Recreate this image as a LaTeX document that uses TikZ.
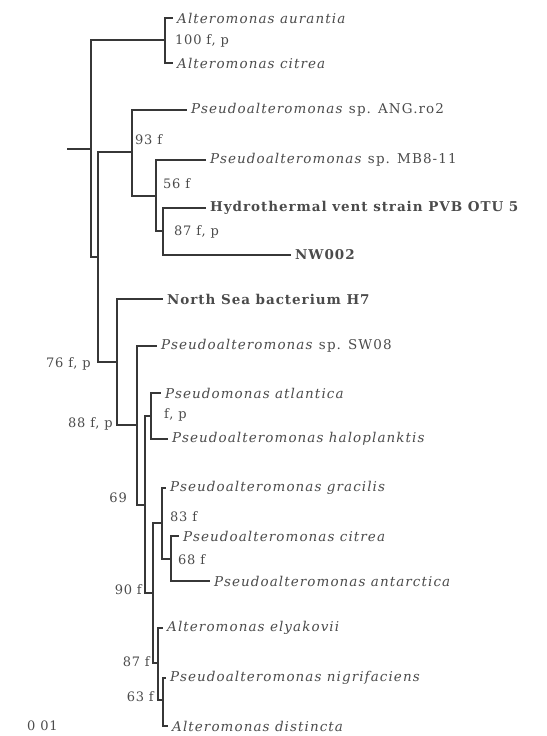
\documentclass[tikz,border=0pt]{standalone}
\usepackage{fontspec}
\setmainfont{Liberation Serif}
\newfontfamily\taxonfont[LetterSpace=8]{DejaVu Serif}
\newfontfamily\valuefont[LetterSpace=6]{DejaVu Serif}
\usetikzlibrary{positioning}
\definecolor{branchgray}{RGB}{55, 55, 55}
\definecolor{textgray}{RGB}{75, 75, 75}
\tikzset{
    branch/.style={draw=branchgray, line width=1.5pt},
    taxon/.style={anchor=west, inner xsep=4pt, inner ysep=0pt, text=textgray,
        font=\taxonfont\itshape\fontsize{13.5}{15}\selectfont},
    strain/.style={taxon, font=\taxonfont\addfontfeature{LetterSpace=7}\bfseries\fontsize{13.5}{15}\selectfont},
    support/.style={inner sep=0pt, text=textgray, font=\valuefont\fontsize{13}{15}\selectfont},
    support left/.style={support, anchor=east},
    support right/.style={support, anchor=west}
}

\begin{document}
\begin{tikzpicture}[x=1pt, y=-1pt]
\useasboundingbox (0,0) rectangle (546,736);

% Internal nodes
\coordinate (base) at (67,149);
\coordinate (root) at (91,149);
\coordinate (altclade) at (165,40);
\coordinate (innerA) at (98,257);
\coordinate (node93) at (132,152);
\coordinate (node56) at (156,196);
\coordinate (node87) at (163,231);
\coordinate (node76) at (117,362);
\coordinate (node88) at (137,425);
\coordinate (node69) at (145,505);
\coordinate (nodefp) at (151,416);
\coordinate (node90) at (153,593);
\coordinate (node83) at (162,523);
\coordinate (node68) at (171,559);
\coordinate (node87b) at (158,663);
\coordinate (node63) at (163,700);

% Leaves
\node[taxon] (aurantia) at (173,18) {Alteromonas aurantia};
\node[taxon] (altcitrea) at (173,63) {Alteromonas citrea};
\node[taxon] (angro) at (187,110) {Pseudoalteromonas \textup{sp. ANG.ro2}};
\node[taxon] (mbeight) at (206,160) {Pseudoalteromonas \textup{sp. MB8-11}};
\node[strain] (hydro) at (206,208) {Hydrothermal vent strain PVB OTU 5};
\node[strain] (nw) at (291,255) {NW002};
\node[strain] (northsea) at (163,299) {North Sea bacterium H7};
\node[taxon] (swzero) at (157,346) {Pseudoalteromonas \textup{sp. SW08}};
\node[taxon] (atlantica) at (161,393) {Pseudomonas atlantica};
\node[taxon] (halo) at (168,439) {Pseudoalteromonas haloplanktis};
\node[taxon] (gracilis) at (166,488) {Pseudoalteromonas gracilis};
\node[taxon] (pcitrea) at (179,536) {Pseudoalteromonas citrea};
\node[taxon] (antarctica) at (210,581) {Pseudoalteromonas antarctica};
\node[taxon] (elyakovii) at (163,628) {Alteromonas elyakovii};
\node[taxon] (nigri) at (166,678) {Pseudoalteromonas nigrifaciens};
\node[taxon] (distincta) at (168,726) {Alteromonas distincta};

% Branches
\draw[branch] (base) -- (root);
\draw[branch] (root) |- (altclade);
\draw[branch] (root) |- (innerA);
\draw[branch] (altclade) |- (aurantia.west);
\draw[branch] (altclade) |- (altcitrea.west);
\draw[branch] (innerA) |- (node93);
\draw[branch] (innerA) |- (node76);
\draw[branch] (node93) |- (angro.west);
\draw[branch] (node93) |- (node56);
\draw[branch] (node56) |- (mbeight.west);
\draw[branch] (node56) |- (node87);
\draw[branch] (node87) |- (hydro.west);
\draw[branch] (node87) |- (nw.west);
\draw[branch] (node76) |- (northsea.west);
\draw[branch] (node76) |- (node88);
\draw[branch] (node88) |- (swzero.west);
\draw[branch] (node88) |- (node69);
\draw[branch] (node69) |- (nodefp);
\draw[branch] (node69) |- (node90);
\draw[branch] (nodefp) |- (atlantica.west);
\draw[branch] (nodefp) |- (halo.west);
\draw[branch] (node90) |- (node83);
\draw[branch] (node90) |- (node87b);
\draw[branch] (node83) |- (gracilis.west);
\draw[branch] (node83) |- (node68);
\draw[branch] (node68) |- (pcitrea.west);
\draw[branch] (node68) |- (antarctica.west);
\draw[branch] (node87b) |- (elyakovii.west);
\draw[branch] (node87b) |- (node63);
\draw[branch] (node63) |- (nigri.west);
\draw[branch] (node63) |- (distincta.west);

% Support values
\node[support right] (bs100) at (175,41) {100 f, p};
\node[support right] (bs93) at (135,140) {93 f};
\node[support right] (bs56) at (163,184) {56 f};
\node[support right] (bs87fp) at (174,232) {87 f, p};
\node[support left] (bs76) at (91,364) {76 f, p};
\node[support left] (bs88) at (113,424) {88 f, p};
\node[support right] (bsfp) at (164,415) {f, p};
\node[support left] (bs69) at (127,498) {69};
\node[support right] (bs83) at (170,517) {83 f};
\node[support right] (bs68) at (178,560) {68 f};
\node[support left] (bs90) at (142,590) {90 f};
\node[support left] (bs87) at (150,662) {87 f};
\node[support left] (bs63) at (154,697) {63 f};

% Scale
\node[support right] (scale) at (27,726) {0 01};
\end{tikzpicture}
\end{document}
